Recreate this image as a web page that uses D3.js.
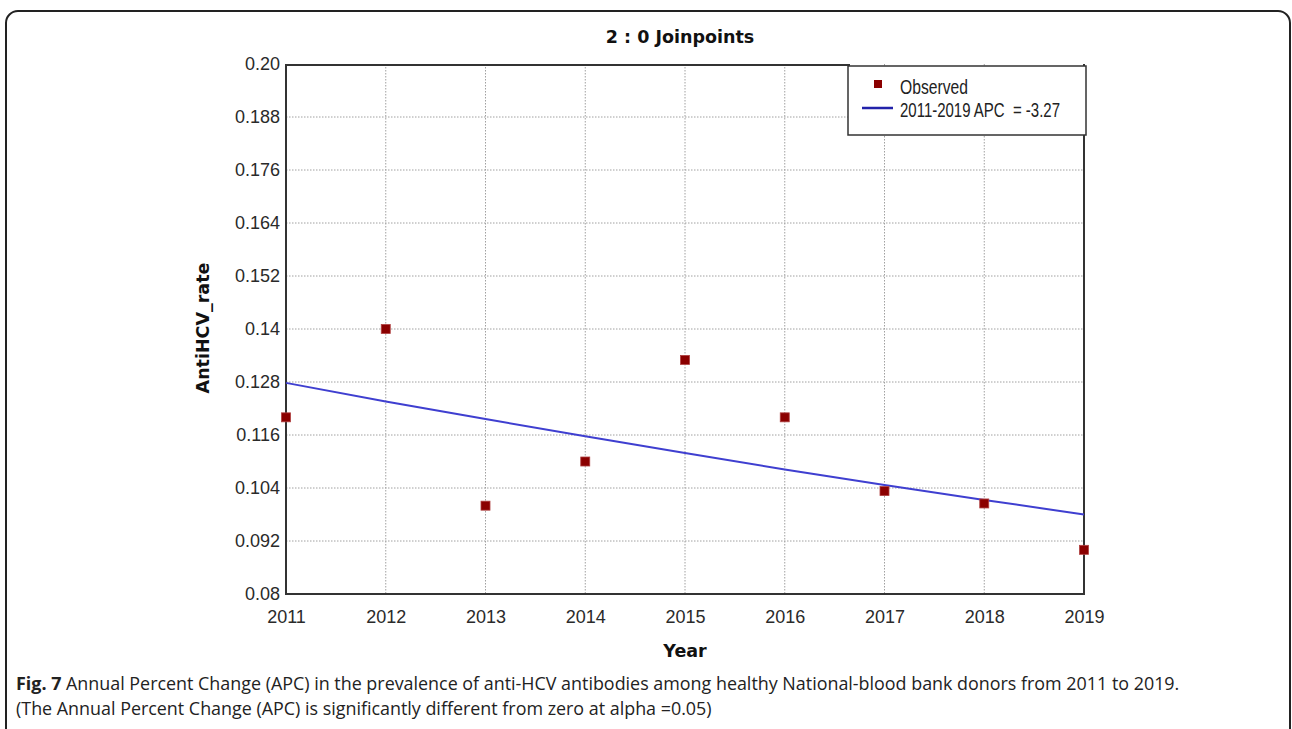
<!DOCTYPE html>
<html><head><meta charset="utf-8">
<script src="https://cdn.jsdelivr.net/npm/d3@7"></script>
<style>html,body{margin:0;padding:0;background:#fff;}svg{display:block;}</style>
</head><body>
<svg id="c" width="1292" height="729"></svg>
<script>
const years = [2011, 2012, 2013, 2014, 2015, 2016, 2017, 2018, 2019];
const observed = [0.120, 0.140, 0.100, 0.110, 0.133, 0.120, 0.1033, 0.1005, 0.090];
const fitted = [0.1278, 0.1236, 0.1196, 0.1157, 0.1119, 0.1082, 0.1047, 0.1013, 0.0980];
const yTicks = [0.20, 0.188, 0.176, 0.164, 0.152, 0.14, 0.128, 0.116, 0.104, 0.092, 0.08];
const yTickLabels = ["0.20","0.188","0.176","0.164","0.152","0.14","0.128","0.116","0.104","0.092","0.08"];
const legendLabels = ["Observed", "2011-2019 APC  = -3.27"];
const titleText = "2 : 0 Joinpoints";
const xTitle = "Year", yTitle = "AntiHCV_rate";
const captionBold = "Fig. 7";
const captionLine1 = " Annual Percent Change (APC) in the prevalence of anti-HCV antibodies among healthy National-blood bank donors from 2011 to 2019.";
const captionLine2 = "(The Annual Percent Change (APC) is significantly different from zero at alpha =0.05)";

const svg = d3.select("#c");
const L = 286, R = 1084, T = 64, B = 594;
const x = d3.scaleLinear().domain([2011, 2019]).range([L, R]);
const y = d3.scaleLinear().domain([0.08, 0.20]).range([B, T]);

// outer frame
svg.append("rect").attr("x", 6).attr("y", 11).attr("width", 1284).attr("height", 730)
  .attr("rx", 12).attr("fill", "none").attr("stroke", "#222").attr("stroke-width", 2);

// grid
const g = svg.append("g");
g.selectAll(".vg").data(years.slice(1, -1)).join("line")
  .attr("x1", d => x(d)).attr("x2", d => x(d)).attr("y1", T).attr("y2", B)
  .attr("stroke", "#a0a0a0").attr("stroke-width", 1).attr("stroke-dasharray", "1.5,1.5");
g.selectAll(".hg").data(yTicks.slice(1, -1)).join("line")
  .attr("x1", L).attr("x2", R).attr("y1", d => y(d)).attr("y2", d => y(d))
  .attr("stroke", "#a0a0a0").attr("stroke-width", 1).attr("stroke-dasharray", "1.5,1.5");

// axes
const tf = "Liberation Sans, Arial, sans-serif";
const yAxis = d3.axisLeft(y).tickValues(yTicks).tickFormat((d, i) => yTickLabels[i]).tickSize(0).tickPadding(6);
const ya = svg.append("g").attr("transform", `translate(${L},0)`).call(yAxis);
ya.select(".domain").remove();
ya.selectAll("text").attr("font-family", tf).attr("font-size", 18).attr("fill", "#2a2a2a");

const xAxis = d3.axisBottom(x).tickValues(years).tickFormat(d3.format("d")).tickSize(0).tickPadding(16);
const xa = svg.append("g").attr("transform", `translate(0,${B})`).call(xAxis);
xa.select(".domain").remove();
xa.selectAll("text").attr("font-family", tf).attr("font-size", 18).attr("fill", "#2a2a2a");

// frame lines
svg.append("line").attr("x1", L).attr("x2", L).attr("y1", T).attr("y2", B).attr("stroke", "#333").attr("stroke-width", 2);
svg.append("line").attr("x1", L - 1).attr("x2", R + 1).attr("y1", B).attr("y2", B).attr("stroke", "#333").attr("stroke-width", 2);
svg.append("line").attr("x1", L).attr("x2", 850).attr("y1", T + 1).attr("y2", T + 1).attr("stroke", "#333").attr("stroke-width", 2);
svg.append("line").attr("x1", R).attr("x2", R).attr("y1", T).attr("y2", B).attr("stroke", "#333").attr("stroke-width", 2);

// fitted line
svg.append("path").datum(years.map((d, i) => [d, fitted[i]]))
  .attr("d", d3.line().x(d => x(d[0])).y(d => y(d[1])))
  .attr("fill", "none").attr("stroke", "#3f3fd0").attr("stroke-width", 2);

// observed points
svg.selectAll(".pt").data(years.map((d, i) => [d, observed[i]])).join("rect")
  .attr("x", d => x(d[0]) - 4.5).attr("y", d => y(d[1]) - 4.5).attr("width", 9).attr("height", 9)
  .attr("fill", "#8b0000").attr("stroke", "#b04040").attr("stroke-width", 0.8);

// legend
svg.append("rect").attr("x", 848).attr("y", 66).attr("width", 238).attr("height", 69)
  .attr("fill", "#fff").attr("stroke", "#333").attr("stroke-width", 1.5);
svg.append("rect").attr("x", 874).attr("y", 80).attr("width", 8).attr("height", 8).attr("fill", "#8b0000");
svg.append("line").attr("x1", 862).attr("x2", 893).attr("y1", 108).attr("y2", 108).attr("stroke", "#2222aa").attr("stroke-width", 2.5);
svg.append("text").attr("x", 900).attr("y", 94).text(legendLabels[0])
  .attr("font-family", "Liberation Sans Narrow, Liberation Sans, Arial, sans-serif").attr("font-size", 20).attr("fill", "#222")
  .attr("textLength", 68).attr("lengthAdjust", "spacingAndGlyphs");
svg.append("text").attr("x", 900).attr("y", 117).text(legendLabels[1])
  .attr("font-family", "Liberation Sans Narrow, Liberation Sans, Arial, sans-serif").attr("font-size", 20).attr("fill", "#222")
  .attr("textLength", 160).attr("lengthAdjust", "spacingAndGlyphs").attr("xml:space", "preserve").style("white-space", "pre");

// titles
const bf = "DejaVu Sans, Verdana, sans-serif";
svg.append("text").attr("x", 680).attr("y", 43).attr("text-anchor", "middle").text(titleText)
  .attr("font-family", bf).attr("font-weight", "bold").attr("font-size", 17.5).attr("fill", "#111");
svg.append("text").attr("x", 685).attr("y", 657).attr("text-anchor", "middle").text(xTitle)
  .attr("font-family", bf).attr("font-weight", "bold").attr("font-size", 17.5).attr("fill", "#111");
svg.append("text").attr("transform", "translate(209,328) rotate(-90)").attr("text-anchor", "middle").text(yTitle)
  .attr("font-family", bf).attr("font-weight", "bold").attr("font-size", 17.5).attr("fill", "#111");

// caption
const cf = "Open Sans, Noto Sans, sans-serif";
const c1 = svg.append("text").attr("x", 16).attr("y", 690).attr("font-family", cf).attr("font-size", 17.9).attr("fill", "#222");
c1.append("tspan").attr("font-weight", "bold").text(captionBold);
c1.append("tspan").text(captionLine1);
svg.append("text").attr("x", 16).attr("y", 715).attr("font-family", cf).attr("font-size", 17.9).attr("fill", "#222").text(captionLine2);
</script>
</body></html>
